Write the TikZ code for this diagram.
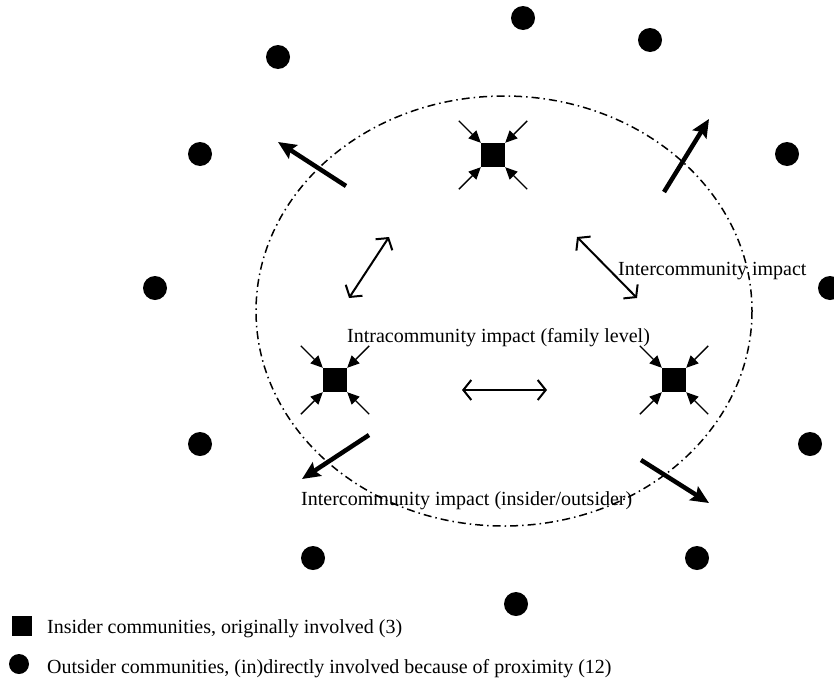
\documentclass[tikz,border=0pt]{standalone}
\usepackage{fontspec}
\setmainfont{Liberation Serif}
\usepackage{tikz}
\usetikzlibrary{arrows.meta}

\begin{document}
\begin{tikzpicture}[x=1pt, y=-1pt,
      outsider/.style={circle, fill=black, inner sep=0pt, minimum size=24pt},
      insider/.style={rectangle, fill=black, inner sep=0pt, minimum size=24pt},
      inarr/.style={-{Triangle[length=12pt, width=11pt]}, line width=1.4pt},
      bigarr/.style={-{Stealth[length=18pt, width=16pt, inset=3pt]}, line width=4.5pt},
      dblarr/.style={{Straight Barb[length=8pt, width=20pt]}-{Straight Barb[length=8pt, width=20pt]}, line width=2pt},
      lbl/.style={font=\fontsize{20}{22}\selectfont, inner sep=0pt, anchor=base west}
    ]
    \useasboundingbox (0,0) rectangle (834,688);

    \draw[line width=1.5pt, dash pattern=on 8pt off 4pt on 1.5pt off 4pt]
      (504,311) ellipse [x radius=248, y radius=215];

    \foreach \n/\x/\y in {1/523/18, 2/650/40, 3/278/57, 4/200/154, 5/787/154,
                          6/155/288, 7/830/288, 8/200/444, 9/810/444,
                          10/313/558, 11/697/558, 12/516/604}{
      \node[outsider] (o\n) at (\x,\y) {};
    }

    \node[insider] (ins1) at (493,155) {};
    \node[insider] (ins2) at (335,380) {};
    \node[insider] (ins3) at (674,380) {};

    \foreach \s in {ins1, ins2, ins3}{
      \draw[inarr] (\s.north west) ++(-22,-22) -- (\s.north west);
      \draw[inarr] (\s.north east) ++(22,-22) -- (\s.north east);
      \draw[inarr] (\s.south west) ++(-22,22) -- (\s.south west);
      \draw[inarr] (\s.south east) ++(22,22) -- (\s.south east);
    }

    \coordinate (nwA) at (346,186); \coordinate (nwB) at (278,142);
    \coordinate (neA) at (664,192); \coordinate (neB) at (709,119);
    \coordinate (swA) at (369,435); \coordinate (swB) at (302,479);
    \coordinate (seA) at (641,460); \coordinate (seB) at (709,503);
    \draw[bigarr] (nwA) -- (nwB);
    \draw[bigarr] (neA) -- (neB);
    \draw[bigarr] (swA) -- (swB);
    \draw[bigarr] (seA) -- (seB);

    \coordinate (lA) at (389,237); \coordinate (lB) at (349,298);
    \coordinate (rA) at (577,237); \coordinate (rB) at (637,298);
    \coordinate (mA) at (462,390); \coordinate (mB) at (547,390);
    \draw[dblarr] (lA) -- (lB);
    \draw[dblarr] (rA) -- (rB);
    \draw[dblarr] (mA) -- (mB);

    \node[lbl] (inter)  at (618,275) {Intercommunity impact};
    \node[lbl] (intra)  at (347,342) {Intracommunity impact (family level)};
    \node[lbl] (interio) at (301,505) {Intercommunity impact (insider/outsider)};

    \node[insider, minimum size=20pt] (keyins) at (22,626) {};
    \node[outsider, minimum size=20pt] (keyout) at (19,664) {};
    \node[lbl] (keyinst)  at (47,633) {Insider communities, originally involved (3)};
    \node[lbl] (keyoutt)  at (47,673) {Outsider communities, (in)directly involved because of proximity (12)};
\end{tikzpicture}
\end{document}
